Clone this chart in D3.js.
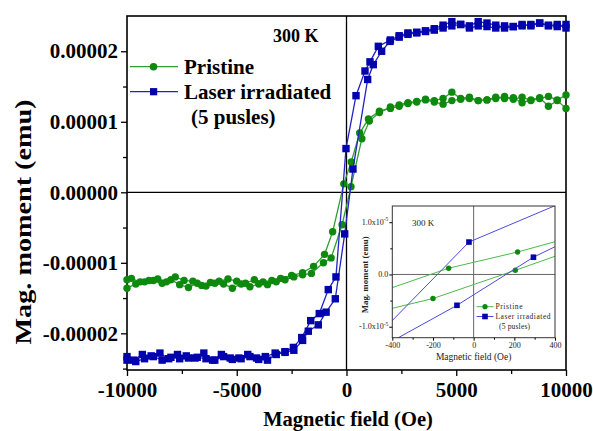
<!DOCTYPE html>
<html><head><meta charset="utf-8">
<script src="https://cdn.jsdelivr.net/npm/d3@7"></script>
<style>
html,body{margin:0;padding:0;background:#fff;}
svg{display:block;}
text{font-family:"Liberation Serif","Times New Roman",serif;}
</style>
</head><body>
<svg id="c" width="593" height="431"></svg>
<script>
// ---- data (magnetic moment in units of 1e-5 emu, field in Oe) ----
const UNIT = 1e-5;
const pristineDownH = [10000,9600,9200,8800,8400,8000,7600,7200,6800,6400,6000,5600,5200,4800,4400,4000,3600,3200,2800,2400,2000,1500,1000,600,216,-123,-630,-1000,-1500,-2000,-2500,-3000,-3400,-3800,-4200,-4600,-5000,-5400,-5800,-6200,-6600,-7000,-7400,-7800,-8200,-8600,-9000,-9400,-9800,-10000];
const pristineDownM = [1.38,1.31,1.36,1.33,1.30,1.35,1.32,1.36,1.33,1.31,1.30,1.35,1.33,1.42,1.33,1.30,1.32,1.28,1.26,1.22,1.19,1.15,1.04,0.84,0.43,0.12,-0.56,-0.88,-1.05,-1.14,-1.18,-1.22,-1.25,-1.27,-1.24,-1.29,-1.26,-1.23,-1.26,-1.28,-1.32,-1.26,-1.25,-1.20,-1.27,-1.23,-1.25,-1.27,-1.22,-1.24];
const pristineUpH = [-10000,-9600,-9200,-8800,-8400,-8000,-7600,-7200,-6800,-6400,-6000,-5600,-5200,-4800,-4400,-4000,-3600,-3200,-2800,-2400,-2000,-1600,-1050,-700,-200,205,700,1040,1500,2000,2400,2800,3200,3600,4000,4400,4800,5200,5600,6000,6400,6800,7200,7600,8000,8400,8800,9200,9600,10000];
const pristineUpM = [-1.36,-1.30,-1.27,-1.25,-1.29,-1.24,-1.31,-1.35,-1.29,-1.33,-1.29,-1.30,-1.36,-1.30,-1.34,-1.30,-1.31,-1.27,-1.24,-1.20,-1.17,-1.15,-1.00,-0.93,-0.46,0.08,0.76,1.01,1.13,1.21,1.24,1.27,1.29,1.31,1.28,1.25,1.30,1.32,1.33,1.30,1.31,1.35,1.33,1.34,1.27,1.31,1.34,1.22,1.30,1.19];
const laserDownH = [10000,9600,9200,8800,8400,8000,7600,7200,6800,6400,6000,5600,5200,4800,4400,4000,3600,3200,2800,2400,2000,1450,1070,843,433,-23,-480,-830,-1240,-1630,-2040,-2420,-2800,-3250,-3700,-4100,-4500,-4900,-5300,-5700,-6100,-6500,-6900,-7300,-7700,-8100,-8500,-8900,-9300,-9700,-10000];
const laserDownM = [2.33,2.38,2.36,2.40,2.38,2.36,2.35,2.33,2.37,2.40,2.42,2.36,2.38,2.42,2.37,2.32,2.29,2.27,2.26,2.22,2.16,2.07,1.85,1.72,1.37,0.62,-1.20,-1.38,-1.72,-1.82,-2.06,-2.20,-2.26,-2.28,-2.33,-2.35,-2.30,-2.35,-2.35,-2.30,-2.38,-2.28,-2.35,-2.32,-2.30,-2.36,-2.28,-2.32,-2.30,-2.38,-2.33];
const laserUpH = [-10000,-9600,-9200,-8800,-8400,-8000,-7600,-7200,-6800,-6400,-6000,-5600,-5200,-4800,-4400,-4000,-3600,-3200,-2800,-2400,-2000,-1740,-1285,-930,-510,-82,294,964,1222,1600,1980,2400,2800,3200,3600,4000,4400,4800,5200,5600,6000,6400,6800,7200,7600,8000,8400,8800,9200,9600,10000];
const laserUpM = [-2.38,-2.40,-2.36,-2.33,-2.38,-2.34,-2.36,-2.35,-2.34,-2.36,-2.38,-2.33,-2.37,-2.36,-2.33,-2.37,-2.38,-2.30,-2.27,-2.24,-2.10,-1.97,-1.88,-1.70,-1.51,-0.59,0.33,1.60,1.81,2.00,2.14,2.20,2.24,2.26,2.28,2.30,2.33,2.36,2.38,2.33,2.36,2.35,2.33,2.36,2.35,2.38,2.36,2.40,2.37,2.35,2.38];

const seriesNames = ["Pristine", "Laser irradiated", "(5 pusles)"];
const tempLabel = "300 K";
const xTicks = [-10000,-5000,0,5000,10000];
const xTickLabels = ["-10000","-5000","0","5000","10000"];
const xMinorTicks = [-7500,-2500,2500,7500];
const yTicks = [-2e-5,-1e-5,0,1e-5,2e-5];
const yTickLabels = ["-0.00002","-0.00001","0.00000","0.00001","0.00002"];
const yMinorTicks = [-2.5e-5,-1.5e-5,-0.5e-5,0.5e-5,1.5e-5];
const insetXTicks = [-400,-200,0,200,400];
const insetXMinor = [-300,-100,100,300];
const insetYTicks = [-1e-5,0,1e-5];
const insetYTickLabels = [["-1.0x10","-5"],["0.0",""],["1.0x10","-5"]];
const insetYMinor = [-0.5e-5,0.5e-5];

// ---- build ----
const zip = (H, M) => H.map((h, i) => ({h, m: M[i] * UNIT}));
const series = [
  {key: "p", branches: [zip(pristineDownH, pristineDownM), zip(pristineUpH, pristineUpM)],
   line: "#2f9e2f", mark: "#0d8a0d", shape: "circle", iline: "#4fb84f"},
  {key: "l", branches: [zip(laserDownH, laserDownM), zip(laserUpH, laserUpM)],
   line: "#2323c4", mark: "#0303ad", shape: "square", iline: "#4b4be0"}
];

const svg = d3.select("#c");
const L = 127, R = 566, T = 16, B = 370;
const x = d3.scaleLinear().domain([-10000, 10000]).range([L, R]);
const y = d3.scaleLinear().domain([-2.52e-5, 2.5e-5]).range([B, T]);

// zero lines
svg.append("line").attr("x1", L).attr("x2", R).attr("y1", y(0)).attr("y2", y(0))
  .attr("stroke", "#000").attr("stroke-width", 1.3);
svg.append("line").attr("x1", x(0)).attr("x2", x(0)).attr("y1", T).attr("y2", B)
  .attr("stroke", "#000").attr("stroke-width", 1.3);

// axes
const gx = svg.append("g").attr("transform", `translate(0,${B})`)
  .call(d3.axisBottom(x).tickValues(xTicks).tickFormat((d, i) => xTickLabels[i]).tickSize(6).tickPadding(6).tickSizeOuter(0));
svg.append("g").attr("transform", `translate(0,${B})`)
  .call(d3.axisBottom(x).tickValues(xMinorTicks).tickFormat("").tickSize(4).tickSizeOuter(0))
  .call(g => g.select(".domain").remove());
const gy = svg.append("g").attr("transform", `translate(${L},0)`)
  .call(d3.axisLeft(y).tickValues(yTicks).tickFormat((d, i) => yTickLabels[i]).tickSize(6).tickPadding(3).tickSizeOuter(0));
svg.append("g").attr("transform", `translate(${L},0)`)
  .call(d3.axisLeft(y).tickValues(yMinorTicks).tickFormat("").tickSize(4).tickSizeOuter(0))
  .call(g => g.select(".domain").remove());
svg.selectAll(".tick line").attr("stroke", "#000").attr("stroke-width", 1.3);
[gx, gy].forEach(g => g.selectAll("text").attr("font-size", 21).attr("font-weight", "bold")
  .attr("fill", "#000").style("font-family", '"Liberation Serif","Times New Roman",serif'));
svg.selectAll(".domain").remove();

// frame
svg.append("rect").attr("x", L).attr("y", T).attr("width", R - L).attr("height", B - T)
  .attr("fill", "none").attr("stroke", "#000").attr("stroke-width", 1.6);

// series
function drawSeries(g, sx, sy, s, r, sq, lw, lineColor) {
  const line = d3.line().x(d => sx(d.h)).y(d => sy(d.m));
  s.branches.forEach(b => {
    g.append("path").datum(b).attr("d", line).attr("fill", "none")
      .attr("stroke", lineColor).attr("stroke-width", lw);
  });
  s.branches.forEach(b => {
    if (s.shape === "circle") {
      g.selectAll(null).data(b).enter().append("circle")
        .attr("cx", d => sx(d.h)).attr("cy", d => sy(d.m)).attr("r", r).attr("fill", s.mark);
    } else {
      g.selectAll(null).data(b).enter().append("rect")
        .attr("x", d => sx(d.h) - sq / 2).attr("y", d => sy(d.m) - sq / 2)
        .attr("width", sq).attr("height", sq).attr("fill", s.mark);
    }
  });
}
const gMain = svg.append("g");
series.forEach(s => drawSeries(gMain, x, y, s, 3.7, 7.4, 1.3, s.line));

// axis titles
svg.append("text").attr("x", 348).attr("y", 426).attr("text-anchor", "middle")
  .attr("font-size", 20.5).attr("font-weight", "bold").text("Magnetic field (Oe)");
svg.append("text").attr("transform", "translate(31,222) rotate(-90)").attr("text-anchor", "middle")
  .attr("font-size", 23).attr("font-weight", "bold")
  .attr("textLength", 245).attr("lengthAdjust", "spacingAndGlyphs").text("Mag. moment (emu)");

// label and legend
svg.append("text").attr("x", 273).attr("y", 42).attr("font-size", 18).attr("font-weight", "bold").text(tempLabel);
const leg = [{s: series[0], y: 66.7, t: seriesNames[0]}, {s: series[1], y: 91.7, t: seriesNames[1]}];
leg.forEach(l => {
  svg.append("line").attr("x1", 130).attr("x2", 178).attr("y1", l.y).attr("y2", l.y)
    .attr("stroke", l.s.line).attr("stroke-width", 1.3);
  if (l.s.shape === "circle") svg.append("circle").attr("cx", 153.5).attr("cy", l.y).attr("r", 3.8).attr("fill", l.s.mark);
  else svg.append("rect").attr("x", 150).attr("y", l.y - 3.6).attr("width", 7.2).attr("height", 7.2).attr("fill", l.s.mark);
  svg.append("text").attr("x", 184).attr("y", l.y + 7.3).attr("font-size", 21).attr("font-weight", "bold").text(l.t);
});
svg.append("text").attr("x", 191).attr("y", 124).attr("font-size", 21).attr("font-weight", "bold").text(seriesNames[2]);

// ---- inset ----
const iL = 392.3, iR = 555, iT = 206, iB = 337.7;
svg.append("rect").attr("x", 357).attr("y", 199).attr("width", R - 357 - 1).attr("height", B - 199 - 1).attr("fill", "#fff");
const ix = d3.scaleLinear().domain([-400, 400]).range([iL, iR]);
const iy = d3.scaleLinear().domain([-1.21e-5, 1.31e-5]).range([iB, iT]);
svg.append("clipPath").attr("id", "iclip").append("rect")
  .attr("x", iL).attr("y", iT).attr("width", iR - iL).attr("height", iB - iT);
const gIn = svg.append("g").attr("clip-path", "url(#iclip)");
gIn.append("line").attr("x1", iL).attr("x2", iR).attr("y1", iy(0)).attr("y2", iy(0)).attr("stroke", "#666").attr("stroke-width", 1);
gIn.append("line").attr("x1", ix(0)).attr("x2", ix(0)).attr("y1", iT).attr("y2", iB).attr("stroke", "#666").attr("stroke-width", 1);
series.forEach(s => drawSeries(gIn, ix, iy, s, 2.7, 5.6, 1, s.iline));
svg.append("rect").attr("x", iL).attr("y", iT).attr("width", iR - iL).attr("height", iB - iT)
  .attr("fill", "none").attr("stroke", "#333").attr("stroke-width", 1);

const gix = svg.append("g").attr("transform", `translate(0,${iB})`)
  .call(d3.axisBottom(ix).tickValues(insetXTicks).tickSize(3).tickPadding(2).tickSizeOuter(0));
svg.append("g").attr("transform", `translate(0,${iB})`)
  .call(d3.axisBottom(ix).tickValues(insetXMinor).tickFormat("").tickSize(2).tickSizeOuter(0));
const giy = svg.append("g").attr("transform", `translate(${iL},0)`)
  .call(d3.axisLeft(iy).tickValues(insetYTicks).tickFormat("").tickSize(3).tickSizeOuter(0));
svg.append("g").attr("transform", `translate(${iL},0)`)
  .call(d3.axisLeft(iy).tickValues(insetYMinor).tickFormat("").tickSize(2).tickSizeOuter(0));
gix.selectAll("text").attr("font-size", 8).attr("fill", "#222")
  .style("font-family", '"Liberation Serif","Times New Roman",serif').text(d => d < 0 ? "-" + Math.abs(d) : d);
svg.selectAll(".domain").remove();
insetYTicks.forEach((v, i) => {
  const t = svg.append("text").attr("x", iL - 4).attr("y", iy(v)).attr("dy", "0.32em")
    .attr("text-anchor", "end").attr("font-size", 8).attr("fill", "#222");
  t.append("tspan").text(insetYTickLabels[i][0]);
  if (insetYTickLabels[i][1]) t.append("tspan").attr("dy", -3.5).attr("font-size", 5.5).text(insetYTickLabels[i][1]);
});
svg.append("text").attr("x", (iL + iR) / 2).attr("y", 359.5).attr("text-anchor", "middle")
  .attr("font-size", 9.5).attr("fill", "#222").text("Magnetic field (Oe)");
svg.append("text").attr("transform", `translate(368,${(iT + iB) / 2 + 3}) rotate(-90)`).attr("text-anchor", "middle")
  .attr("font-size", 7.5).attr("font-weight", "bold").attr("fill", "#222")
  .attr("textLength", 77).attr("lengthAdjust", "spacingAndGlyphs").text("Mag. moment (emu)");
svg.append("text").attr("x", 412).attr("y", 225.5).attr("font-size", 9).attr("fill", "#222").text(tempLabel);

const ileg = [{s: series[0], y: 306.7, t: seriesNames[0], w: 27}, {s: series[1], y: 316.5, t: seriesNames[1], w: 55}];
ileg.forEach(l => {
  svg.append("line").attr("x1", 476.5).attr("x2", 493.5).attr("y1", l.y).attr("y2", l.y)
    .attr("stroke", l.s.iline).attr("stroke-width", 1);
  if (l.s.shape === "circle") svg.append("circle").attr("cx", 485).attr("cy", l.y).attr("r", 2.6).attr("fill", l.s.mark);
  else svg.append("rect").attr("x", 482.2).attr("y", l.y - 2.8).attr("width", 5.6).attr("height", 5.6).attr("fill", l.s.mark);
  svg.append("text").attr("x", 495.5).attr("y", l.y + 2.7).attr("font-size", 7.5).attr("fill", "#222")
    .attr("textLength", l.w).attr("lengthAdjust", "spacing").text(l.t);
});
svg.append("text").attr("x", 499).attr("y", 329).attr("font-size", 7.5).attr("fill", "#222")
  .attr("textLength", 31).attr("lengthAdjust", "spacing").text(seriesNames[2]);
</script>
</body></html>
